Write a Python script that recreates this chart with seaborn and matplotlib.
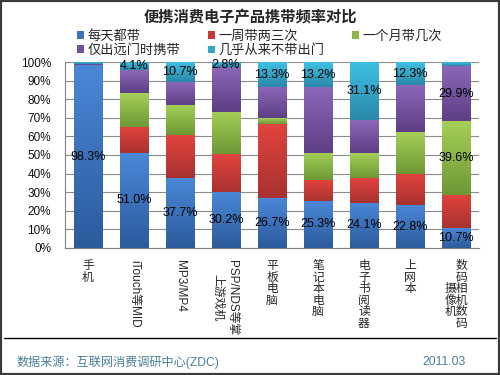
import numpy as np
import matplotlib
matplotlib.use("Agg")
import matplotlib.pyplot as plt
import matplotlib.transforms as mtransforms
import seaborn as sns
from matplotlib.patches import Patch, Rectangle
from matplotlib.lines import Line2D
from matplotlib.colors import to_rgb

# data (%)
categories = ["手机", "iTouch等MID", "MP3/MP4", "PSP/NDS等掌上游戏机", "平板电脑",
              "笔记本电脑", "电子书阅读器", "上网本", "数码相机数码摄像机"]
tick_labels = ["手\n机", "iTouch等MID", "MP3/MP4", "PSP/NDS等掌\n上游戏机",
               "平\n板\n电\n脑", "笔\n记\n本\n电\n脑", "电\n子\n书\n阅\n读\n器",
               "上\n网\n本", "数\n码\n摄相\n像机\n机数\n码"]
rotated = [1, 2]
two_column = 3

series_names = ["每天都带", "一周带两三次", "一个月带几次", "仅出远门时携带", "几乎从来不带出门"]
every_day = [98.3, 51.0, 37.7, 30.2, 26.7, 25.3, 24.1, 22.8, 10.7]
weekly = [0.1, 14.3, 23.1, 20.3, 39.9, 11.2, 13.7, 17.0, 17.9]
monthly = [0.2, 18.3, 16.2, 22.7, 3.2, 14.7, 13.4, 22.6, 39.6]
trips_only = [0.6, 12.3, 12.3, 24.0, 16.9, 35.6, 17.7, 25.3, 29.9]
never = [0.8, 4.1, 10.7, 2.8, 13.3, 13.2, 31.1, 12.3, 1.9]
series = [every_day, weekly, monthly, trips_only, never]

# which bars get a value label, per series
show_labels = [list(range(9)), [], [8], [8], list(range(1, 8))]

# gradient colours (top, bottom) and legend colour for each series
grad_colors = [("#4A87D6", "#2C5B9C"), ("#E2433E", "#A83230"), ("#A5CF57", "#6E9835"),
               ("#8C68B8", "#5D3F85"), ("#3EC0E3", "#2A88A8")]
legend_colors = ["#3C73B9", "#C8383A", "#8EB548", "#7250A0", "#34A8C8"]

sns.set_style("white")
plt.rcParams["font.family"] = ["Liberation Sans", "Noto Sans CJK SC"]

fig = plt.figure(figsize=(5, 3.75), dpi=100)
fig.patch.set_facecolor("white")
ax = fig.add_axes([65 / 500, 1 - 247.7 / 375, 414 / 500, 185.4 / 375])

bottom = np.zeros(len(categories))
for vals, cols in zip(series, grad_colors):
    sns.barplot(x=categories, y=vals, order=categories, bottom=bottom.copy(),
                color=cols[1], saturation=1, width=0.63, edgecolor="none", ax=ax)
    bottom += np.array(vals)

# vertical gradient on every segment
for k, cont in enumerate(ax.containers):
    top_c = np.array(to_rgb(grad_colors[k][0]))
    bot_c = np.array(to_rgb(grad_colors[k][1]))
    t = np.linspace(0, 1, 64)[:, None]
    grad = (top_c * (1 - t) + bot_c * t)[:, None, :]
    for rect in cont.patches:
        x, y = rect.get_xy()
        w, h = rect.get_width(), rect.get_height()
        ax.imshow(grad, extent=(x, x + w, y, y + h), origin="upper", aspect="auto",
                  interpolation="bilinear", zorder=rect.get_zorder() + 0.01)

for k, cont in enumerate(ax.containers):
    labels = [f"{v:.1f}%" if i in show_labels[k] else "" for i, v in enumerate(series[k])]
    texts = ax.bar_label(cont, labels=labels, label_type="center", fontsize=9, color="black")
    for t in texts:
        t.set_zorder(5)

ax.set_xlim(-0.5, len(categories) - 0.5)
ax.set_ylim(0, 100)
ax.set_yticks(range(0, 101, 10))
ax.set_yticklabels([f"{v}%" for v in range(0, 101, 10)], fontsize=8.5, color="#111111")
ax.set_axisbelow(True)
ax.yaxis.grid(True, color="#8c8c8c", lw=0.8)
ax.xaxis.grid(False)

shown = [("" if i == two_column else lab) for i, lab in enumerate(tick_labels)]
ax.set_xticks(range(len(categories)))
ax.set_xticklabels(shown, fontsize=8.5, linespacing=0.95)
for i, lbl in enumerate(ax.get_xticklabels()):
    lbl.set_multialignment("center")
    if i in rotated:
        lbl.set_rotation(-90)
ax.get_xticklabels()[-1].set_multialignment("right")

# the two-column rotated label: first line on the right, second centred on its left
right_part, left_part = tick_labels[two_column].split("\n")
base = ax.get_xaxis_transform()
ax.text(two_column, 0, right_part, rotation=-90, ha="center", va="top", fontsize=8.5,
        transform=mtransforms.offset_copy(base, fig=fig, x=6, y=-12, units="dots"))
ax.text(two_column, 0, left_part, rotation=-90, ha="center", va="center", fontsize=8.5,
        transform=mtransforms.offset_copy(base, fig=fig, x=-9, y=-50, units="dots"))

ax.set_xticks(np.arange(-0.5, len(categories), 1), minor=True)
ax.tick_params(axis="x", which="major", length=0, pad=9)
ax.tick_params(axis="x", which="minor", length=4, direction="out", color="#808080")
ax.tick_params(axis="y", length=4, direction="out", color="#808080", pad=6)
ax.set_xlabel("")
ax.set_ylabel("")

for s in ["top", "right"]:
    ax.spines[s].set_visible(False)
for s in ["left", "bottom"]:
    ax.spines[s].set_color("#808080")
    ax.spines[s].set_linewidth(0.8)

fig.text(0.5, 1 - 17 / 375, "便携消费电子产品携带频率对比", ha="center", va="center",
         fontsize=11, fontweight="bold", family=["Noto Sans CJK SC"])

order = [0, 3, 1, 4, 2]
handles = [Patch(facecolor=legend_colors[i], edgecolor="none") for i in order]
fig.legend(handles, [series_names[i] for i in order], ncol=3, frameon=False,
           loc="upper left", bbox_to_anchor=(77 / 500, 1 - 30 / 375), borderpad=0,
           borderaxespad=0, fontsize=9.5, handlelength=0.5, handleheight=0.5,
           handletextpad=0.3, columnspacing=2.1, labelspacing=0.12)

fig.add_artist(Line2D([4 / 500, 496 / 500], [1 - 338 / 375] * 2, color="black", lw=1,
                      transform=fig.transFigure))
fig.text(17 / 500, 1 - 362 / 375, "数据来源：互联网消费调研中心(ZDC)", ha="left", va="center",
         fontsize=8.7, color="#4A7F9C")
fig.text(466 / 500, 1 - 362 / 375, "2011.03", ha="right", va="center",
         fontsize=8.7, color="#4A7F9C")
fig.add_artist(Rectangle((0, 0), 1, 1, transform=fig.transFigure, fill=False,
                         edgecolor="#3a3a3a", lw=3))

fig.savefig("out.png", dpi=100)
